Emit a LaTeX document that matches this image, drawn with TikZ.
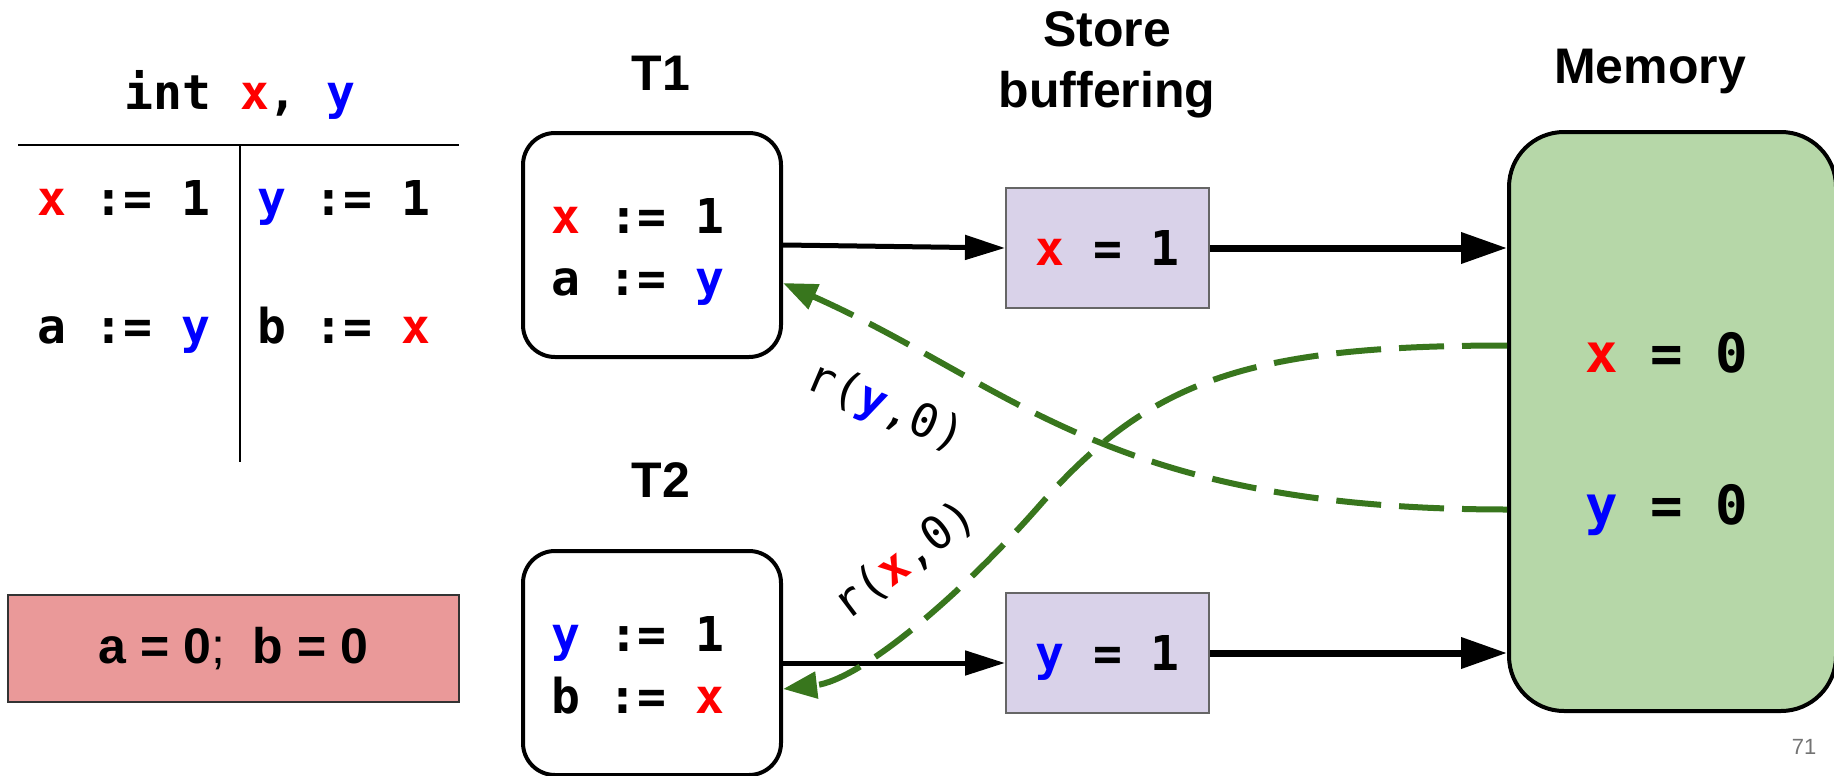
\documentclass[tikz,border=0pt]{standalone}
\usepackage{fontspec}
\setmainfont{Liberation Sans}
\setmonofont{DejaVu Sans Mono}
\usetikzlibrary{arrows.meta}
\definecolor{varred}{HTML}{FF0000}
\definecolor{varblue}{HTML}{0000FF}
\definecolor{readgreen}{HTML}{38761D}
\definecolor{memfill}{HTML}{B6D7A8}
\definecolor{buffill}{HTML}{D9D2E9}
\definecolor{outfill}{HTML}{EA9999}
\newcommand{\vX}{\textcolor{varred}{x}}
\newcommand{\vY}{\textcolor{varblue}{y}}
\tikzset{
  code/.style={anchor=base west, inner sep=0pt, font=\ttfamily\bfseries\fontsize{48}{58}\selectfont},
  memcode/.style={anchor=base west, inner sep=0pt, font=\ttfamily\bfseries\fontsize{54}{64}\selectfont},
  lbl/.style={inner sep=0pt, font=\ttfamily\fontsize{46}{56}\selectfont},
  title/.style={anchor=base, inner sep=0pt, align=center, font=\bfseries\fontsize{50}{61}\selectfont},
  threadbox/.style={draw, fill=white, line width=4pt, rounded corners=32pt, inner sep=0pt, minimum width=258pt, minimum height=224pt},
  bufbox/.style={draw=black!60, fill=buffill, line width=2pt, inner sep=0pt, minimum width=203pt, minimum height=120pt,
    text height=35pt, text depth=0pt, font=\ttfamily\bfseries\fontsize{48}{58}\selectfont},
  membox/.style={draw, fill=memfill, line width=4pt, rounded corners=55pt, inner sep=0pt, minimum width=327pt, minimum height=579pt},
  outbox/.style={draw=black!80, fill=outfill, line width=2pt, inner sep=0pt, minimum width=451pt, minimum height=107pt,
    font=\bfseries\fontsize{50}{60}\selectfont},
  write/.style={line width=5pt, -{Triangle[length=40pt,width=24pt]}},
  flush/.style={line width=7pt, -{Triangle[length=46pt,width=30pt]}},
  readback/.style={draw=readgreen, line width=6pt, dash pattern=on 45pt off 18pt, -{Triangle[length=34pt,width=26pt]}}
}

\begin{document}
\begin{tikzpicture}[x=1pt,y=-1pt]
\useasboundingbox (0,0) rectangle (1834,776);
\node[code, anchor=base] (decl) at (240,110) {int \vX, \vY};
\draw[line width=2pt] (18,145) -- (459,145);
\draw[line width=2pt] (240,145) -- (240,462);
\node[code] (lx) at (37,215) {\vX{} := 1};
\node[code] (ly) at (257,215) {\vY{} := 1};
\node[code] (la) at (37,343) {a := \vY};
\node[code] (lb) at (257,343) {b := \vX};
\node[outbox] (outcome) at (233.5,648.5) {a = 0{\mdseries;}\ \ b = 0};

\node[title] (t1lbl) at (661,90) {T1};
\node[title] (t2lbl) at (661,497) {T2};
\node[title, anchor=center] (sblbl) at (1107,65) {Store\\buffering};
\node[title] (memlbl) at (1650,84) {Memory};

\node[threadbox] (t1) at (652,245) {};
\node[code] (t1w) at (551,233) {\vX{} := 1};
\node[code] (t1r) at (551,295) {a := \vY};
\node[threadbox] (t2) at (652,663) {};
\node[code] (t2w) at (551,651) {\vY{} := 1};
\node[code] (t2r) at (551,713) {b := \vX};

\node[bufbox] (sbx) at (1107.5,248) {\vX{} = 1};
\node[bufbox] (sby) at (1107.5,653) {\vY{} = 1};

\node[membox] (mem) at (1672.5,421.5) {};
\node[memcode] (memx) at (1585,372) {\vX{} = 0};
\node[memcode] (memy) at (1585,524) {\vY{} = 0};

\draw[write] (t1.east) -- (sbx.west);
\draw[write] (t2.east) -- (t2.east -| sby.west);
\draw[flush] (sbx.east) -- (sbx.east -| mem.west);
\draw[flush] (sby.east) -- (sby.east -| mem.west);

\draw[readback] ([yshift=-88pt]mem.west) .. controls +(-400,0) and +(229,102) .. ([yshift=-38pt]t1.east);
\draw[readback] ([yshift=76pt]mem.west) .. controls +(-259,0) and (1150,380) .. (1040,505)
  .. controls +(-79,90) and +(78,-9) .. ([yshift=-26pt]t2.east);
\node[lbl, rotate=-23] (ready) at (885,408) {r(\textbf{\vY},0)};
\node[lbl, rotate=37] (readx) at (905,560) {r(\textbf{\vX},0)};

\node[anchor=base, inner sep=0pt, text=black!55, font=\fontsize{22}{22}\selectfont] (pagenum) at (1804,754) {71};
\end{tikzpicture}
\end{document}
